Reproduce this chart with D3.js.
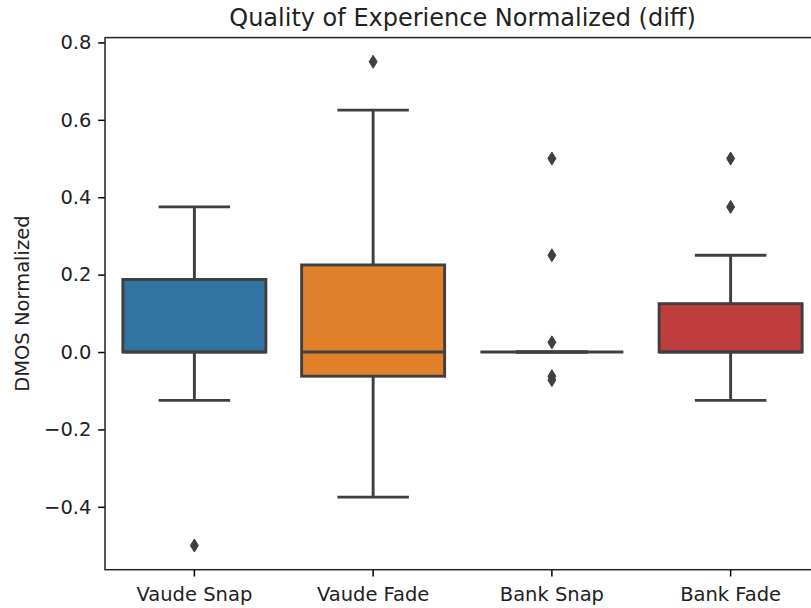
<!DOCTYPE html>
<html>
<head>
<meta charset="utf-8">
<script src="https://cdn.jsdelivr.net/npm/d3@7/dist/d3.min.js"></script>
<style>
  html, body { margin: 0; padding: 0; background: #fff; }
  svg { display: block; font-family: "DejaVu Sans", sans-serif; }
</style>
</head>
<body>
<svg id="chart" width="811" height="608"></svg>
<script>
// Box statistics per condition
const categories = ["Vaude Snap", "Vaude Fade", "Bank Snap", "Bank Fade"];
const q1 = [0, -0.0625, 0, 0];
const medians = [0, 0, 0, 0];
const q3 = [0.1875, 0.225, 0, 0.125];
const whiskerLow = [-0.125, -0.375, 0, -0.125];
const whiskerHigh = [0.375, 0.625, 0, 0.25];
const outliers = [
  [-0.5],
  [0.75],
  [0.5, 0.25, 0.025, -0.0625, -0.0725],
  [0.5, 0.375]
];
const colors = ["#3274a1", "#e1812c", "#3a923a", "#c03d3e"];
const yTicks = [-0.4, -0.2, 0.0, 0.2, 0.4, 0.6, 0.8];
const yDomain = [-0.5625, 0.8125];

const svg = d3.select("#chart");
const plotLeft = 105, plotTop = 37.6, plotBottom = 569.7, plotRight = 820;
const lineColor = "#3f3f3f";

const x = d3.scaleBand().domain(categories).range([plotLeft, plotRight]).paddingInner(0).paddingOuter(0);
const y = d3.scaleLinear().domain(yDomain).range([plotBottom, plotTop]);
const bw = x.bandwidth() * 0.8;
const cx = c => x(c) + x.bandwidth() / 2;

const g = svg.append("g");

categories.forEach((c, i) => {
  const xc = cx(c);
  const box = g.append("g");
  // whiskers
  box.append("line").attr("x1", xc).attr("x2", xc)
    .attr("y1", y(q3[i])).attr("y2", y(whiskerHigh[i]))
    .attr("stroke", lineColor).attr("stroke-width", 2.9);
  box.append("line").attr("x1", xc).attr("x2", xc)
    .attr("y1", y(q1[i])).attr("y2", y(whiskerLow[i]))
    .attr("stroke", lineColor).attr("stroke-width", 2.9);
  // caps
  [whiskerLow[i], whiskerHigh[i]].forEach(v => {
    box.append("line").attr("x1", xc - bw / 4).attr("x2", xc + bw / 4)
      .attr("y1", y(v)).attr("y2", y(v))
      .attr("stroke", lineColor).attr("stroke-width", 2.9);
  });
  // box body
  box.append("rect")
    .attr("x", xc - bw / 2).attr("width", bw)
    .attr("y", y(q3[i])).attr("height", y(q1[i]) - y(q3[i]))
    .attr("fill", colors[i]).attr("stroke", lineColor).attr("stroke-width", 2.9);
  // median
  box.append("line").attr("x1", xc - bw / 2).attr("x2", xc + bw / 2)
    .attr("y1", y(medians[i])).attr("y2", y(medians[i]))
    .attr("stroke", lineColor).attr("stroke-width", 2.9);
  // outliers as thin diamonds
  outliers[i].forEach(v => {
    const yy = y(v);
    box.append("path")
      .attr("d", `M${xc},${yy - 6.5}L${xc + 4},${yy}L${xc},${yy + 6.5}L${xc - 4},${yy}Z`)
      .attr("fill", lineColor).attr("stroke", lineColor).attr("stroke-width", 1);
  });
});

// axes
const yAxis = d3.axisLeft(y).tickValues(yTicks).tickSize(6.8).tickPadding(6.8)
  .tickFormat(d => d3.format(".1f")(d).replace("-", "\u2212"));
const xAxis = d3.axisBottom(x).tickSize(6.8).tickPadding(10.5);

const ya = svg.append("g").attr("transform", `translate(${plotLeft},0)`).call(yAxis);
const xa = svg.append("g").attr("transform", `translate(0,${plotBottom})`).call(xAxis);
[ya, xa].forEach(a => {
  a.select(".domain").remove();
  a.selectAll(".tick line").attr("stroke", "#000").attr("stroke-width", 1.5);
  a.selectAll("text").attr("fill", "#222").attr("font-size", 19.5)
    .attr("font-family", "DejaVu Sans, sans-serif");
});

// spines
svg.append("rect").attr("x", plotLeft).attr("y", plotTop)
  .attr("width", plotRight - plotLeft).attr("height", plotBottom - plotTop)
  .attr("fill", "none").attr("stroke", "#222").attr("stroke-width", 1.5);

// labels
svg.append("text").attr("x", (plotLeft + plotRight) / 2).attr("y", 26)
  .attr("text-anchor", "middle").attr("font-size", 24).attr("fill", "#222")
  .text("Quality of Experience Normalized (diff)");
svg.append("text")
  .attr("transform", `translate(29,${(plotTop + plotBottom) / 2}) rotate(-90)`)
  .attr("text-anchor", "middle").attr("font-size", 19.5).attr("fill", "#222")
  .text("DMOS Normalized");
</script>
</body>
</html>
